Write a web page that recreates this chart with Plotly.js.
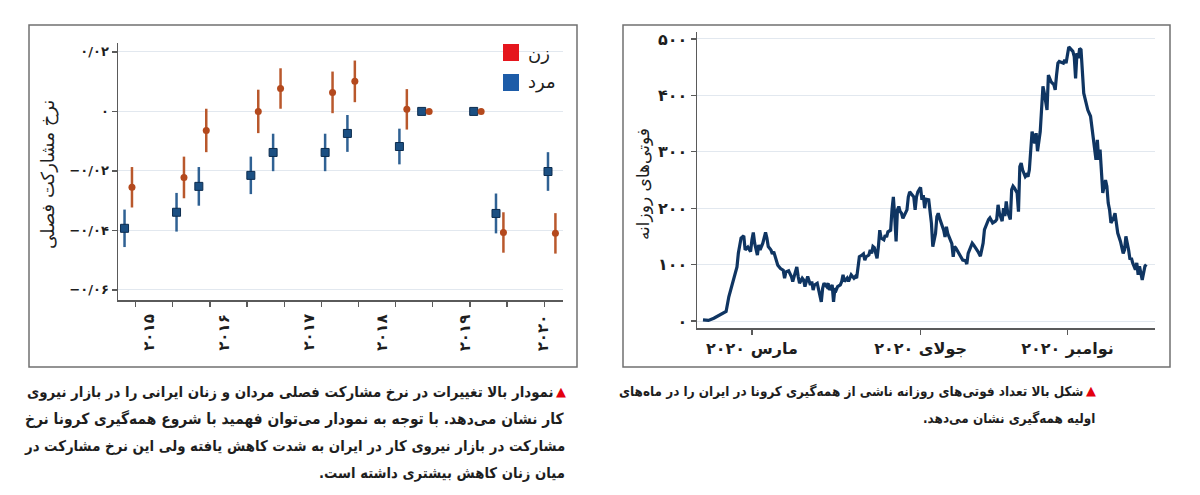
<!DOCTYPE html>
<html>
<head>
<meta charset="utf-8">
<script src="https://cdn.plot.ly/plotly-3.0.1.min.js"></script>
<style>
  html, body { margin: 0; padding: 0; background: #ffffff; }
  #chart { width: 1200px; height: 495px; }
</style>
</head>
<body>
<div id="chart"></div>
<script>
// ---------- Left chart: seasonal participation-rate changes ----------
const halfYearTicks = [2014.5, 2015, 2015.5, 2016, 2016.5, 2017, 2017.5, 2018, 2018.5, 2019, 2019.5, 2020];
const yearLabelPos = [2014.67, 2015.68, 2016.82, 2017.81, 2018.93, 2019.98];
const yearLabels = ['۲۰۱۵', '۲۰۱۶', '۲۰۱۷', '۲۰۱۸', '۲۰۱۹', '۲۰۲۰'];

const menX   = [2014.35, 2015.05, 2015.35, 2016.05, 2016.35, 2017.05, 2017.35, 2018.05, 2018.35, 2019.05, 2019.35, 2020.05];
const menY   = [-0.0393, -0.0339, -0.0252, -0.0215, -0.0138, -0.0138, -0.0074, -0.0118, 0, 0, -0.0343, -0.0202];
const menErr = [0.0063, 0.0065, 0.0065, 0.0063, 0.0063, 0.0063, 0.0062, 0.0060, 0, 0, 0.0067, 0.0065];

const womenX   = [2014.45, 2015.15, 2015.45, 2016.15, 2016.45, 2017.15, 2017.45, 2018.15, 2018.45, 2019.15, 2019.45, 2020.15];
const womenY   = [-0.0255, -0.0222, -0.0064, 0, 0.0077, 0.0064, 0.0101, 0.0007, 0, 0, -0.0407, -0.0410];
const womenErr = [0.0068, 0.0070, 0.0073, 0.0073, 0.0068, 0.0070, 0.0070, 0.0068, 0, 0, 0.0068, 0.0068];

const leftYTicks = [-0.06, -0.04, -0.02, 0, 0.02];
const leftYText  = ['−۰/۰۶', '−۰/۰۴', '−۰/۰۲', '۰', '۰/۰۲'];

// ---------- Right chart: daily COVID deaths in Iran ----------
const startDate = '2020-02-19';
const deathDay = [0,4,8,11,15,17,19,20,22,25,26,27,28,30,31,33,35,36,37,38,40,41,42,44,46,47,48,50,51,52,54,55,57,59,60,61,63,65,66,68,69,70,71,73,74,75,76,77,79,80,81,82,84,85,86,87,88,89,91,92,93,95,96,97,98,99,101,102,103,104,106,107,108,109,111,112,113,114,115,117,118,119,120,122,123,124,125,126,128,129,130,131,133,134,135,136,138,139,140,141,142,143,144,145,146,147,148,150,151,152,153,155,156,157,158,160,161,162,163,164,166,167,168,169,171,172,173,174,175,177,178,179,180,182,183,184,185,186,188,189,190,191,193,194,195,196,198,199,200,201,202,204,205,206,207,209,210,211,212,213,215,216,217,218,220,221,222,223,224,226,227,228,229,231,232,233,234,235,237,238,239,240,242,243,244,245,246,248,249,250,251,253,254,255,256,258,259,260,261,262,264,265,266,267,269,270,271,272,273,274,275,276,277,278,280,281,282,283,285,286,287,288,289,290,291,292,293,294,296,297,298,299,300,302,303,304,305,307,308,309,310,311,313,314,315,316,318,319,320,321,323,324,325,326];
const deaths   = [2,1,5,9,14,17,43,52,67,96,120,135,147,151,126,131,123,144,157,138,117,135,126,138,157,147,132,126,119,123,108,99,93,90,76,87,89,79,70,90,96,79,67,76,73,61,73,79,64,70,55,64,67,55,43,34,58,67,61,67,55,64,34,58,55,61,64,70,82,70,76,70,76,82,76,79,76,99,114,117,119,108,114,117,126,120,132,130,111,132,161,147,144,152,149,158,161,197,220,185,141,197,203,194,191,182,188,197,220,229,226,220,197,220,229,237,215,223,200,216,215,194,173,132,155,185,191,182,176,161,149,167,155,144,137,114,132,129,120,117,114,108,107,101,120,127,138,135,132,127,124,115,127,138,162,177,180,183,177,174,177,180,206,191,177,200,186,212,194,180,233,239,236,227,194,274,280,268,256,259,256,268,336,327,315,333,301,336,368,416,404,374,436,430,424,419,410,436,457,460,457,457,463,457,486,483,481,478,469,430,475,466,483,481,404,392,380,374,363,345,327,309,286,321,286,304,274,227,250,239,209,197,174,183,191,174,156,141,132,120,126,150,126,109,112,103,91,103,82,97,73,85,97,100];
const dateTickDay  = [36, 160, 268];
const dateTickText = ['مارس ۲۰۲۰', 'جولای ۲۰۲۰', 'نوامبر ۲۰۲۰'];
const dateRangeDay = [-4.4, 332.4];
const rightYTicks = [0, 100, 200, 300, 400, 500];
const rightYText  = ['۰', '۱۰۰', '۲۰۰', '۳۰۰', '۴۰۰', '۵۰۰'];

// ---------- Text ----------
const leftYTitle  = 'نرخ مشارکت فصلی';
const rightYTitle = 'فوتی‌های روزانه';
const legendNames = ['زن', 'مرد'];
const leftCaption = [
  'نمودار بالا تغییرات در نرخ مشارکت فصلی مردان و زنان ایرانی را در بازار نیروی',
  'کار نشان می‌دهد. با توجه به نمودار می‌توان فهمید با شروع همه‌گیری کرونا نرخ',
  'مشارکت در بازار نیروی کار در ایران به شدت کاهش یافته ولی این نرخ مشارکت در',
  'میان زنان کاهش بیشتری داشته است.\u200F'
];
const rightCaption = [
  'شکل بالا تعداد فوتی‌های روزانه ناشی از همه‌گیری کرونا در ایران را در ماه‌های',
  'اولیه همه‌گیری نشان می‌دهد.\u200F'
];

// ---------- helpers ----------
const t0 = Date.parse(startDate + 'T00:00:00Z');
function dayToDate(d) {
  const dt = new Date(t0 + d * 86400000);
  return dt.toISOString().replace('T', ' ').slice(0, 19);
}
const W = 1200, H = 495;
const px = v => v / W;
const py = v => 1 - v / H;

const FA = 'DejaVu Sans';
const FAC = 'DejaVu Sans Condensed';
const ink = '#1e1e1e';
const axisCol = '#5a5a5a';
const gridCol = '#e2e8ef';

const traces = [
  {
    type: 'scatter', mode: 'markers', x: menX, y: menY, xaxis: 'x', yaxis: 'y',
    name: legendNames[1], showlegend: false,
    marker: { symbol: 'square', size: 8, color: '#1b4f82', line: { color: '#0c2c4f', width: 1 } },
    error_y: { type: 'data', array: menErr, visible: true, color: '#2f6193', thickness: 2.5, width: 0 }
  },
  {
    type: 'scatter', mode: 'markers', x: womenX, y: womenY, xaxis: 'x', yaxis: 'y',
    name: legendNames[0], showlegend: false,
    marker: { symbol: 'circle', size: 7, color: '#b4491d', line: { width: 0 } },
    error_y: { type: 'data', array: womenErr, visible: true, color: '#b9582c', thickness: 2.5, width: 0 }
  },
  {
    type: 'scatter', mode: 'lines', x: deathDay.map(dayToDate), y: deaths, xaxis: 'x2', yaxis: 'y2',
    showlegend: false, line: { color: '#0f3562', width: 3.2, shape: 'linear' }
  }
];

const annotations = [];
// year labels under the left chart (rotated)
yearLabels.forEach((t, i) => annotations.push({
  xref: 'x', yref: 'paper', x: yearLabelPos[i], y: py(312), text: t, textangle: -90, showarrow: false,
  xanchor: 'center', yanchor: 'top', font: { family: FA, size: 15, color: ink, weight: 'bold' }
}));
// axis titles
annotations.push({ xref: 'paper', yref: 'paper', x: px(48), y: py(175), text: leftYTitle, textangle: -90,
  showarrow: false, xanchor: 'center', yanchor: 'middle', font: { family: FA, size: 18, color: ink } });
annotations.push({ xref: 'paper', yref: 'paper', x: px(643), y: py(184), text: rightYTitle, textangle: -90,
  showarrow: false, xanchor: 'center', yanchor: 'middle', font: { family: FA, size: 17, color: ink } });
// legend labels
annotations.push({ xref: 'paper', yref: 'paper', x: px(526), y: py(53), text: legendNames[0], showarrow: false,
  xanchor: 'left', yanchor: 'middle', font: { family: FA, size: 18, color: ink } });
annotations.push({ xref: 'paper', yref: 'paper', x: px(526), y: py(82), text: legendNames[1], showarrow: false,
  xanchor: 'left', yanchor: 'middle', font: { family: FA, size: 18, color: ink } });
// captions (per-line size approximates the justified block of the original)
const leftCapY = [392, 419, 446, 473];
const leftCapSize = [14.9, 15.4, 14.8, 14.7];
leftCaption.forEach((t, i) => annotations.push({
  xref: 'paper', yref: 'paper', x: px(i === 0 ? 556 : 567), y: py(leftCapY[i]), text: t, showarrow: false,
  xanchor: 'right', yanchor: 'middle', font: { family: FAC, size: leftCapSize[i], color: ink, weight: 'bold' }
}));
annotations.push({ xref: 'paper', yref: 'paper', x: px(568), y: py(391), text: '▲', showarrow: false,
  xanchor: 'right', yanchor: 'middle', font: { family: FA, size: 13, color: '#e3000f' } });
const rightCapY = [391, 418];
const rightCapSize = [13.4, 13.4];
rightCaption.forEach((t, i) => annotations.push({
  xref: 'paper', yref: 'paper', x: px(i === 0 ? 1085 : 1097), y: py(rightCapY[i]), text: t, showarrow: false,
  xanchor: 'right', yanchor: 'middle', font: { family: FAC, size: rightCapSize[i], color: ink, weight: 'bold' }
}));
annotations.push({ xref: 'paper', yref: 'paper', x: px(1098), y: py(390), text: '▲', showarrow: false,
  xanchor: 'right', yanchor: 'middle', font: { family: FA, size: 13, color: '#e3000f' } });

const shapes = [
  // frames
  { type: 'rect', xref: 'paper', yref: 'paper', x0: px(29), x1: px(577), y0: py(367), y1: py(25),
    line: { color: '#707070', width: 1.5 }, fillcolor: 'rgba(0,0,0,0)' },
  { type: 'rect', xref: 'paper', yref: 'paper', x0: px(623), x1: px(1170), y0: py(367), y1: py(25),
    line: { color: '#707070', width: 1.5 }, fillcolor: 'rgba(0,0,0,0)' },
  // legend swatches
  { type: 'rect', xref: 'paper', yref: 'paper', x0: px(503), x1: px(519), y0: py(61), y1: py(44),
    line: { width: 0 }, fillcolor: '#e5161d' },
  { type: 'rect', xref: 'paper', yref: 'paper', x0: px(503), x1: px(519), y0: py(91), y1: py(74),
    line: { width: 0 }, fillcolor: '#1d5ca8' }
];

const layout = {
  width: W, height: H,
  margin: { l: 0, r: 0, t: 0, b: 0 },
  paper_bgcolor: '#ffffff', plot_bgcolor: '#ffffff',
  showlegend: false,
  font: { family: FA, color: ink },
  xaxis: {
    domain: [px(118), px(563)], anchor: 'y', range: [2014.262, 2020.252],
    tickmode: 'array', tickvals: halfYearTicks, showticklabels: false,
    ticks: 'outside', ticklen: 5, tickwidth: 1.3, tickcolor: axisCol,
    showline: true, linecolor: axisCol, linewidth: 1.5, showgrid: false, zeroline: false
  },
  yaxis: {
    domain: [py(300), py(43)], anchor: 'x', range: [-0.0634, 0.023],
    tickmode: 'array', tickvals: leftYTicks, ticktext: leftYText,
    ticks: 'outside', ticklen: 5, tickwidth: 1.3, tickcolor: axisCol,
    showline: true, linecolor: axisCol, linewidth: 1.5,
    showgrid: true, gridcolor: gridCol, gridwidth: 1, zeroline: false,
    tickfont: { family: FA, size: 13, color: ink, weight: 'bold' }
  },
  xaxis2: {
    domain: [px(697), px(1155)], anchor: 'y2', type: 'date',
    range: dateRangeDay.map(dayToDate),
    tickmode: 'array', tickvals: dateTickDay.map(dayToDate), ticktext: dateTickText,
    ticks: 'outside', ticklen: 5, tickwidth: 1.3, tickcolor: axisCol,
    showline: true, linecolor: axisCol, linewidth: 1.5, showgrid: false, zeroline: false,
    tickfont: { family: FA, size: 16, color: ink, weight: 'bold' }
  },
  yaxis2: {
    domain: [py(328), py(32)], anchor: 'x2', range: [-12.4, 512.4],
    tickmode: 'array', tickvals: rightYTicks, ticktext: rightYText,
    ticks: 'outside', ticklen: 5, tickwidth: 1.3, tickcolor: axisCol,
    showline: true, linecolor: axisCol, linewidth: 1.5,
    showgrid: true, gridcolor: gridCol, gridwidth: 1, zeroline: false,
    tickfont: { family: FA, size: 16, color: ink, weight: 'bold' }
  },
  annotations: annotations,
  shapes: shapes
};

Plotly.newPlot('chart', traces, layout, { staticPlot: true, displayModeBar: false });
</script>
</body>
</html>
